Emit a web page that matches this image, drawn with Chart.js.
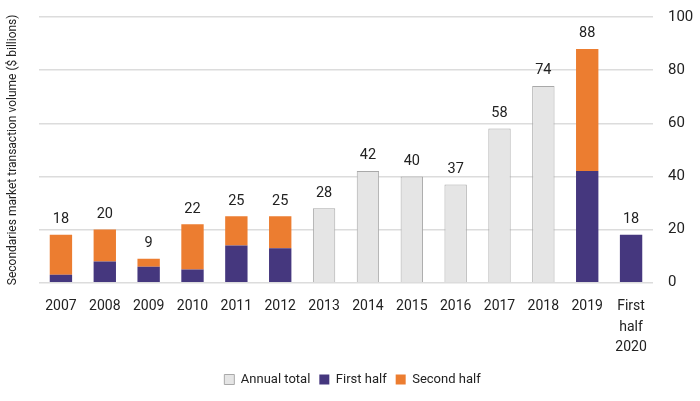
<!DOCTYPE html>
<html>
<head>
<meta charset="utf-8">
<script src="https://cdn.jsdelivr.net/npm/chart.js@4"></script>
<style>
  html, body { margin: 0; padding: 0; background: #fff; }
  #wrap { width: 700px; height: 401px; }
</style>
</head>
<body>
<div id="wrap"><canvas id="chart"></canvas></div>
<script>
// ===== data =====
const years = ["2007", "2008", "2009", "2010", "2011", "2012", "2013", "2014", "2015", "2016", "2017", "2018", "2019", ["First", "half", "2020"]];
const annualTotal = [null, null, null, null, null, null, 28, 42, 40, 37, 58, 74, null, null];
const firstHalf = [3, 8, 6, 5, 14, 13, null, null, null, null, null, null, 42, 18];
const secondHalf = [15, 12, 3, 17, 11, 12, null, null, null, null, null, null, 46, null];
const totals = [18, 20, 9, 22, 25, 25, 28, 42, 40, 37, 58, 74, 88, 18];
const yTicks = [0, 20, 40, 60, 80, 100];
const yTitle = "Secondaries market transaction volume ($ billions)";

const FONT = "'Roboto', sans-serif";
const PLOT_TOP = 17;

// keep the plot top where the reference has it
const fixTop = {
  id: "fixTop",
  afterLayout(chart) {
    const y = chart.scales.y;
    if (y.top > PLOT_TOP) {
      y.top = PLOT_TOP;
      y.height = y.bottom - PLOT_TOP;
      y.configure();
      chart.chartArea.top = PLOT_TOP;
      chart.chartArea.height = chart.chartArea.bottom - PLOT_TOP;
    }
  }
};

// totals above bars + left axis title
const totalLabels = {
  id: "totalLabels",
  afterDatasetsDraw(chart) {
    const { ctx, scales, chartArea } = chart;
    ctx.save();
    ctx.font = "14.5px " + FONT;
    ctx.fillStyle = "#222";
    ctx.textAlign = "center";
    ctx.textBaseline = "bottom";
    totals.forEach((v, i) => {
      const x = scales.x.getPixelForValue(i);
      const y = scales.y.getPixelForValue(v);
      ctx.fillText(String(v), x, y - 8);
    });
    ctx.translate(13, (chartArea.top + chartArea.bottom) / 2);
    ctx.rotate(-Math.PI / 2);
    ctx.font = "12px " + FONT;
    ctx.textBaseline = "middle";
    ctx.fillText(yTitle, 0, 0);
    ctx.restore();
  }
};

new Chart(document.getElementById("chart"), {
  type: "bar",
  data: {
    labels: years,
    datasets: [
      {
        label: "Annual total",
        data: annualTotal,
        backgroundColor: "#e5e5e5",
        borderColor: "#a9a9a9",
        borderWidth: 1,
        stack: "s"
      },
      {
        label: "First half",
        data: firstHalf,
        backgroundColor: "#45377e",
        stack: "s"
      },
      {
        label: "Second half",
        data: secondHalf,
        backgroundColor: "#ec7d30",
        stack: "s"
      }
    ]
  },
  options: {
    responsive: true,
    maintainAspectRatio: false,
    animation: false,
    categoryPercentage: 1,
    barPercentage: 0.51,
    layout: { autoPadding: false, padding: { top: PLOT_TOP, right: 0, left: 5, bottom: 5 } },
    plugins: {
      legend: {
        position: "bottom",
        labels: {
          font: { family: FONT, size: 13 },
          color: "#222",
          boxWidth: 10,
          boxHeight: 10,
          padding: 9
        }
      },
      tooltip: { enabled: false }
    },
    scales: {
      x: {
        stacked: true,
        grid: { display: false },
        border: { display: false },
        ticks: { font: { family: FONT, size: 14, lineHeight: 1.46 }, color: "#222", maxRotation: 0, autoSkip: false, padding: 6 }
      },
      y: {
        stacked: true,
        position: "right",
        min: 0,
        max: 100,
        afterBuildTicks: (axis) => { axis.ticks = yTicks.map((v) => ({ value: v })); },
        afterFit: (axis) => { axis.width = 47; },
        grid: { color: "#dcdcdc", lineWidth: 1.5, drawTicks: false },
        border: { display: false },
        ticks: { font: { family: FONT, size: 15 }, color: "#222", padding: 15 }
      },
      yL: {
        position: "left",
        min: 0,
        max: 100,
        afterFit: (axis) => { axis.width = 34; },
        grid: { display: false },
        border: { display: false },
        ticks: { display: false }
      }
    }
  },
  plugins: [fixTop, totalLabels]
});
</script>
</body>
</html>
